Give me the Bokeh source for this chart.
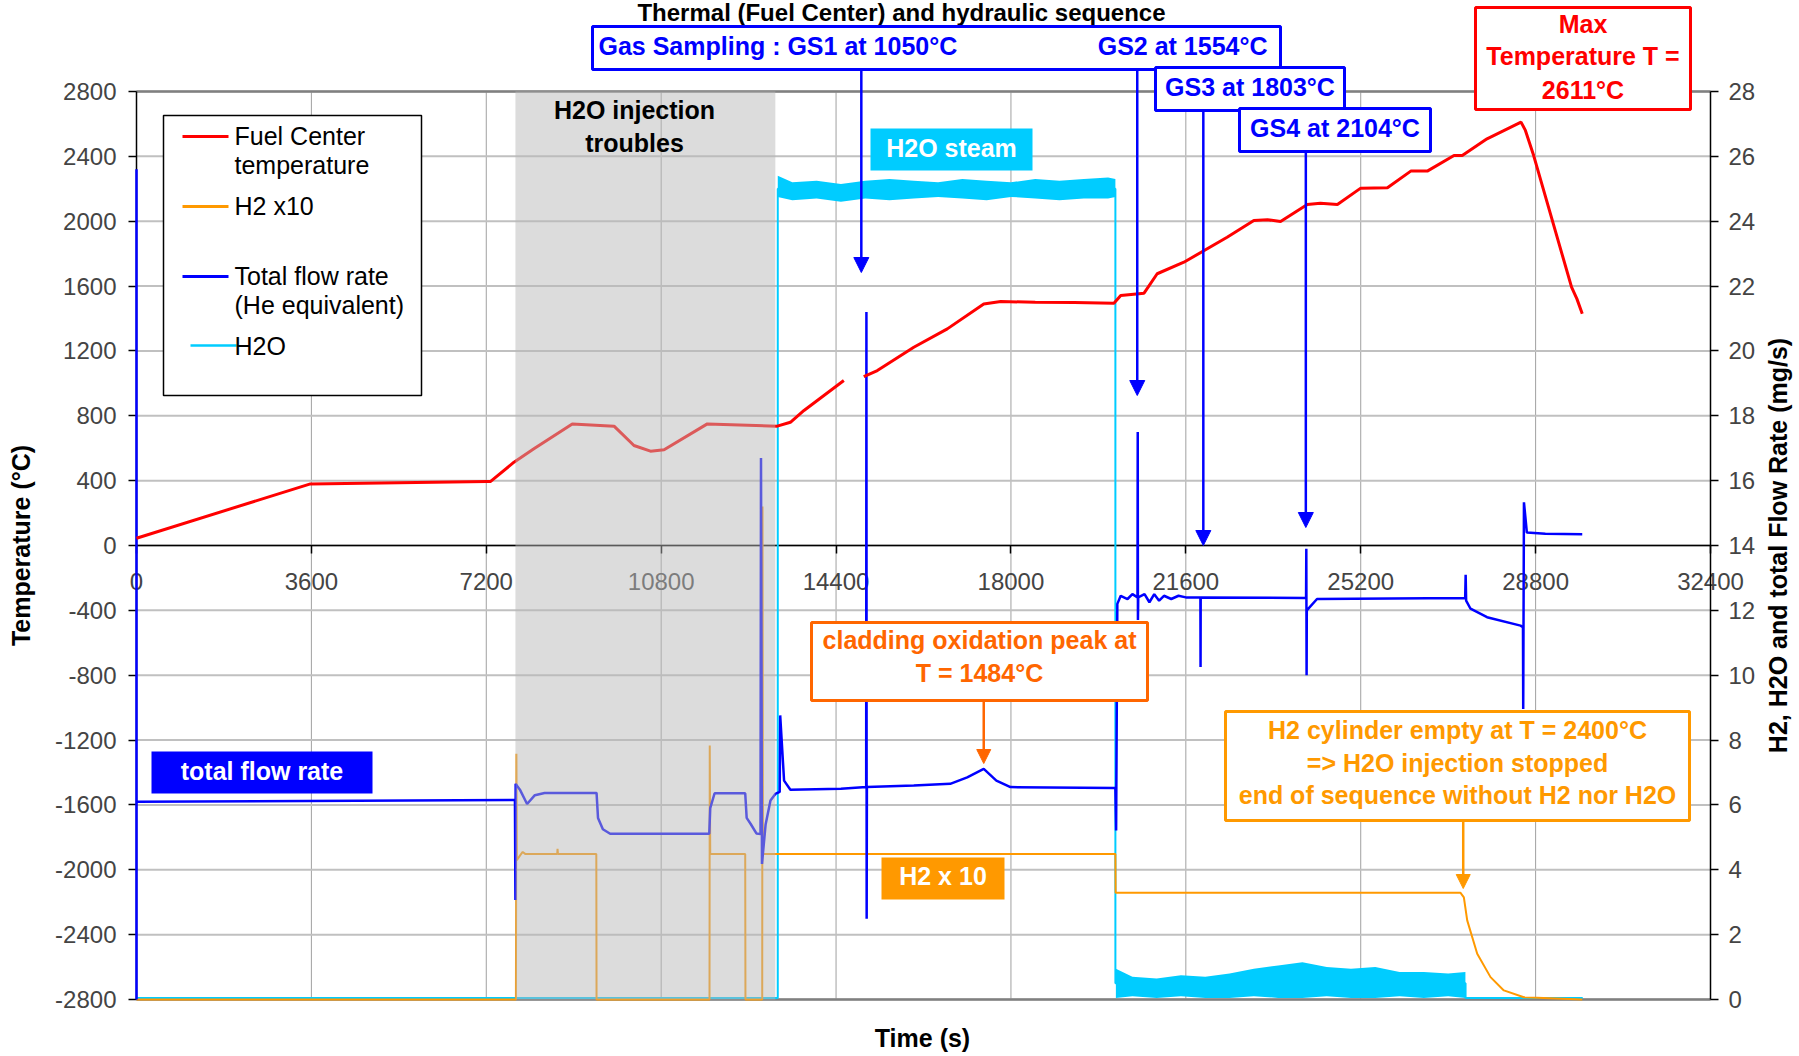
import math
from bokeh.plotting import figure
from bokeh.models import Range1d, LinearAxis, FixedTicker, Arrow, NormalHead
from bokeh.core.properties import value
from bokeh.embed import file_html
from bokeh.resources import INLINE

nan = float("nan")

# ---------------- data ----------------
# Fuel centre temperature (left axis, degC) vs time (s)
temp_time = [0, 3580, 7220, 7290, 7770, 8180, 8970, 9830, 10240, 10580, 10860, 11750,
             13190, 13460, 13740, 14560, 14760, 14970, 15250, 16000, 16690, 17440, 17790,
             18500, 19300, 20120, 20260, 20740, 21010, 21560, 22450, 23000, 23280, 23550,
             24100, 24370, 24720, 25200, 25750, 26230, 26570, 27120, 27290, 27800, 28500,
             28590, 28760, 29540, 29650, 29760]
temp_value = [45, 380, 395, 395, 514, 596, 750, 736, 617, 582, 590, 750,
              736, 760, 833, 1018, nan, 1042, 1079, 1223, 1336, 1490, 1505,
              1500, 1498, 1494, 1542, 1556, 1676, 1747, 1901, 2004, 2009, 1998,
              2103, 2111, 2103, 2204, 2206, 2309, 2309, 2405, 2405, 2508, 2611,
              2560, 2405, 1593, 1521, 1429]

# Total flow rate, He equivalent (right axis, mg/s)
flow_time = [0, 0, 0, 7790, 7800, 7805, 7900, 8040, 8200, 8400, 9470, 9500, 9600, 9750,
             11790, 11810, 11900, 12530, 12560, 12640, 12760, 12845, 12855, 12875, 12950,
             13050, 13150, 13240, 13250, 13330, 13460, 14500, 15020, 15025, 15030, 15035,
             16000, 16750, 17100, 17440, 17700, 17990, 20150, 20165, 20190, 20260, 20400,
             20500, 20605, 20610, 20614, 20620, 20750, 20850, 20950, 21050, 21150, 21300,
             21450, 21600, 21900, 21903, 21906, 24075, 24080, 24086, 24090, 24300, 27350,
             27360, 27370, 27460, 27800, 28490, 28540, 28545, 28560, 28620, 29000, 29760]
flow_value = [0, 25.6, 6.1, 6.15, 3.07, 6.65, 6.45, 6.03, 6.3, 6.37, 6.37, 5.6, 5.25, 5.11,
              5.11, 5.9, 6.36, 6.36, 5.6, 5.42, 5.12, 5.1, 16.7, 4.18, 5.4,
              6.14, 6.34, 6.4, 8.76, 6.75, 6.47, 6.5, 6.55, 21.2, 2.49, 6.55,
              6.6, 6.65, 6.85, 7.11, 6.75, 6.55, 6.52, 5.21, 12.2, 12.45, 12.35,
              12.5, 12.4, 17.5, 11.7, 12.4, 12.5, 12.25, 12.5, 12.3, 12.45, 12.35,
              12.45, 12.4, 12.4, 10.25, 12.4, 12.38, 13.9, 10.0, 12.0, 12.35, 12.38,
              13.1, 12.3, 12.05, 11.79, 11.53, 11.48, 8.96, 15.33, 14.4, 14.36, 14.35]

# H2 x10 (right axis, mg/s)
h2_time = [0, 7810, 7820, 7830, 7900, 7950, 8000, 8660, 8667, 8675, 9465, 9470, 11795,
           11800, 11810, 12530, 12535, 12880, 12886, 12895, 20150, 20155, 27255, 27323,
           27392, 27598, 27872, 28146, 28558, 29760]
h2_value = [0, 0, 7.58, 4.3, 4.45, 4.55, 4.49, 4.49, 4.65, 4.49, 4.49, 0, 0,
            7.83, 4.49, 4.49, 0, 0, 15.2, 4.49, 4.49, 3.29, 3.29, 3.15,
            2.44, 1.41, 0.69, 0.28, 0.07, 0.0]

# H2O (right axis, mg/s): base line plus the envelope of the noisy parts
h2o_time = [0, 13200, 13200, 20150, 20150, 27358, 27358, 29770]
h2o_value = [0.05, 0.05, 25.0, 25.0, 0.5, 0.5, 0.05, 0.05]
steam_time = [13200, 13500, 14000, 14500, 15000, 15500, 16000, 16500, 17000, 17500,
              18000, 18500, 19000, 19500, 20000, 20150]
steam_low = [24.75, 24.65, 24.7, 24.6, 24.7, 24.65, 24.7, 24.75, 24.7, 24.65,
             24.75, 24.7, 24.65, 24.7, 24.7, 24.75]
steam_high = [25.4, 25.2, 25.25, 25.15, 25.25, 25.3, 25.25, 25.2, 25.3, 25.25,
              25.2, 25.3, 25.25, 25.3, 25.35, 25.3]
resid_time = [20160, 20500, 21000, 21500, 22000, 22500, 23000, 23500, 24000, 24500,
              25000, 25500, 26000, 26500, 27000, 27355]
resid_low = [0.05, 0.1, 0.05, 0.1, 0.05, 0.05, 0.1, 0.05, 0.05, 0.1,
             0.05, 0.05, 0.1, 0.05, 0.1, 0.05]
resid_high = [0.95, 0.7, 0.65, 0.75, 0.7, 0.8, 0.95, 1.05, 1.15, 1.0,
              0.95, 1.0, 0.85, 0.85, 0.8, 0.85]

# events
trouble_start, trouble_end = 7800, 13150
gs_time = [14920, 20600, 21960, 24070]
gs_text = ["Gas Sampling : GS1 at 1050°C", "GS2 at 1554°C", "GS3 at 1803°C", "GS4 at 2104°C"]
oxidation_peak_time = 17440
h2_stop_time = 27310

x_ticks = list(range(0, 32401, 3600))
y_ticks = list(range(-2800, 2801, 400))
y2_ticks = list(range(0, 29, 2))

# ---------------- geometry (screenshot px of the reference) ----------------
W, H = 1796, 1054
FX0, FX1 = 136, 1710          # x of t = 0 / t = 32400
FY_TOP, FY_BOT = 91, 999      # y of +2800 / -2800


def tx(px):
    return (px - FX0) / (FX1 - FX0) * 32400


def ty(py):
    return 2800 - (py - FY_TOP) / (FY_BOT - FY_TOP) * 5600


def tr(py):
    return (FY_BOT - py) / (FY_BOT - FY_TOP) * 28


FONT = "Liberation Sans"
BLUE, RED, ORANGE, DORANGE, CYAN = "#0000FF", "#FF0000", "#FF9900", "#FF6600", "#00CCFF"

p = figure(width=W, height=H, x_range=Range1d(tx(0), tx(W)), y_range=Range1d(ty(H), ty(0)),
           output_backend="svg", toolbar_location=None, title=None,
           min_border_left=0, min_border_right=0, min_border_top=0, min_border_bottom=0)
p.extra_y_ranges = {"right": Range1d(tr(H), tr(0))}
p.outline_line_color = None
p.background_fill_color = "white"
p.border_fill_color = "white"
p.xgrid.visible = False
p.ygrid.visible = False

# ---------------- axes (fixed at the chart's own positions) ----------------
la = p.yaxis[0]
la.fixed_location = 0
la.ticker = FixedTicker(ticks=y_ticks)
la.major_label_overrides = {t: str(t) for t in y_ticks}
la.bounds = (-2800, 2800)
la.axis_line_color = "black"
la.axis_line_width = 1.5
la.major_tick_out = 8
la.major_tick_in = 0
la.major_tick_line_width = 1.5
la.minor_tick_line_color = None
la.major_label_text_font = FONT
la.major_label_text_font_size = "24px"
la.major_label_standoff = 12
la.level = "underlay"

ra = LinearAxis(y_range_name="right", fixed_location=32400, ticker=FixedTicker(ticks=y2_ticks),
                bounds=(0, 28), axis_line_color="black", axis_line_width=1.5,
                major_tick_out=8, major_tick_in=0, major_tick_line_width=1.5,
                minor_tick_line_color=None, major_label_text_font=FONT,
                major_label_text_font_size="24px", major_label_standoff=10, level="underlay")
p.add_layout(ra, "right")

xa = p.xaxis[0]
xa.fixed_location = 0
xa.ticker = FixedTicker(ticks=x_ticks)
xa.major_label_overrides = {t: str(t) for t in x_ticks}
xa.bounds = (0, 32400)
xa.axis_line_color = "black"
xa.axis_line_width = 1.5
xa.major_tick_out = 8
xa.major_tick_in = 0
xa.major_tick_line_width = 1.5
xa.minor_tick_line_color = None
xa.major_label_text_font = FONT
xa.major_label_text_font_size = "24px"
xa.major_label_standoff = 19
xa.level = "underlay"

# ---------------- grid and borders ----------------
n_x, n_y = len(x_ticks), len(y_ticks)
p.segment(x0=x_ticks, y0=[-2800] * n_x, x1=x_ticks, y1=[2800] * n_x,
          line_color="#a0a0a0", line_width=1, level="image")
p.segment(x0=[0] * n_y, y0=y_ticks, x1=[32400] * n_y, y1=y_ticks,
          line_color="#c0c0c0", line_width=2, level="image")
p.segment(x0=[0, 0], y0=[2800, -2800], x1=[32400, 32400], y1=[2800, -2800],
          line_color="#808080", line_width=2.5, level="image")

# ---------------- series ----------------
p.varea(x=steam_time, y1=steam_low, y2=steam_high, fill_color=CYAN, y_range_name="right")
p.varea(x=resid_time, y1=resid_low, y2=resid_high, fill_color=CYAN, y_range_name="right")
p.line(h2o_time, h2o_value, line_color=CYAN, line_width=2, y_range_name="right")
p.line(h2_time, h2_value, line_color=ORANGE, line_width=2, y_range_name="right")
p.line(flow_time, flow_value, line_color=BLUE, line_width=2.5, y_range_name="right")
p.line(temp_time, temp_value, line_color=RED, line_width=3)

# H2O injection troubles band (drawn over the curves and the time axis labels)
p.quad(left=[trouble_start], right=[trouble_end], top=[2800], bottom=[-2800],
       fill_color="#b8b8b8", fill_alpha=0.49, line_color=None)


# ---------------- annotations ----------------
def box(x0, y0, x1, y1, fill="white", line=None, lw=3):
    p.quad(left=[tx(x0)], right=[tx(x1)], top=[ty(y0)], bottom=[ty(y1)],
           fill_color=fill, line_color=line, line_width=lw)


def txt(xpx, ypx, s, color, size=25, style="bold", align="center"):
    # ypx is the wanted baseline; the renderer draws alphabetic text ~0.37em lower
    p.text(x=[tx(xpx)], y=[ty(ypx - 0.37 * size)], text=[s], text_color=color,
           text_font=value(FONT), text_font_size=f"{size}px", text_font_style=style,
           text_align=align, text_baseline="alphabetic")


def vtxt(xpx, ypx, s, size=25):
    # rotated (reading upwards), xpx = visual centre of the text line
    p.text(x=[tx(xpx - 3.5)], y=[ty(ypx)], text=[s], text_color="black",
           text_font=value(FONT), text_font_size=f"{size}px", text_font_style="bold",
           text_align="center", text_baseline="middle", angle=math.pi / 2)


def arrow(x, y0px, y1px, color, lw, size):
    p.add_layout(Arrow(end=NormalHead(size=size, fill_color=color, line_color=color),
                       x_start=x, y_start=ty(y0px), x_end=x, y_end=ty(y1px),
                       line_color=color, line_width=lw))


def hseg(x0, x1, ypx, color, lw=3):
    p.segment(x0=[tx(x0)], y0=[ty(ypx)], x1=[tx(x1)], y1=[ty(ypx)], line_color=color,
              line_width=lw)


# title
txt(901, 21, "Thermal (Fuel Center) and hydraulic sequence", "black", size=24)

# axis titles
vtxt(24, 545, "Temperature (°C)")
vtxt(1781, 545, "H2, H2O and total Flow Rate (mg/s)")
txt(922, 1047, "Time (s)", "black")

# H2O injection troubles
txt(634, 119, "H2O injection", "black")
txt(634, 152, "troubles", "black")

# gas sampling boxes
box(592, 26, 1280, 69, line=BLUE)
txt(598, 55, gs_text[0], BLUE, align="left")
txt(1267, 55, gs_text[1], BLUE, align="right")
box(1155, 67, 1344, 110, line=BLUE)
txt(1249.5, 96, gs_text[2], BLUE)
box(1239, 108, 1430, 151, line=BLUE)
txt(1334.5, 137, gs_text[3], BLUE)
arrow(gs_time[0], 69, 272, BLUE, 2.5, 15)
arrow(gs_time[1], 69, 395, BLUE, 2.5, 15)
arrow(gs_time[2], 110, 545, BLUE, 2.5, 15)
arrow(gs_time[3], 151, 527, BLUE, 2.5, 15)

# max temperature
box(1475, 7, 1690, 109, line=RED)
txt(1582.5, 33, "Max", RED)
txt(1582.5, 65, "Temperature T =", RED)
txt(1582.5, 99, "2611°C", RED)

# H2O steam tag
box(870, 128, 1032, 170, fill=CYAN)
txt(951, 157, "H2O steam", "white")

# total flow rate tag
box(151, 751, 372, 793, fill=BLUE)
txt(261.5, 780, "total flow rate", "white")

# cladding oxidation peak
box(811, 622, 1147, 700, line=DORANGE)
txt(979, 649, "cladding oxidation peak at", DORANGE)
txt(979, 682, "T = 1484°C", DORANGE)
arrow(oxidation_peak_time, 700, 763, DORANGE, 2.5, 14)

# H2 x 10 tag
box(881, 857, 1004, 899, fill=ORANGE)
txt(942.5, 885, "H2 x 10", "white")

# H2 cylinder empty
box(1225, 711, 1689, 820, line=ORANGE)
txt(1457, 739, "H2 cylinder empty at T = 2400°C", ORANGE)
txt(1457, 772, "=> H2O injection stopped", ORANGE)
txt(1457, 804, "end of sequence without H2 nor H2O", ORANGE)
arrow(h2_stop_time, 820, 888, ORANGE, 2.5, 14)

# legend
box(163, 115, 421, 395, line="black", lw=1.5)
hseg(182, 228, 136, RED)
hseg(182, 228, 206, ORANGE)
hseg(182, 228, 276, BLUE)
hseg(190, 236, 345, CYAN, lw=2.5)
for ypx, s in [(145, "Fuel Center"), (174, "temperature"), (215, "H2 x10"),
               (285, "Total flow rate"), (314, "(He equivalent)"), (355, "H2O")]:
    txt(234, ypx, s, "black", style="normal", align="left")

open("out.html", "w").write(file_html(p, INLINE))
